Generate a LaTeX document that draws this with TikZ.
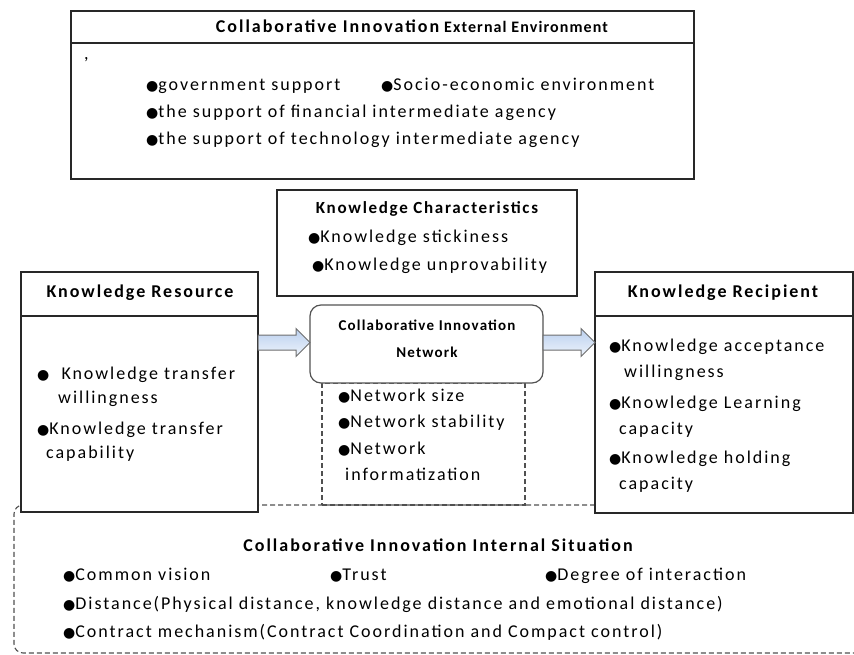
\documentclass[tikz,border=0pt]{standalone}
\usepackage{fontspec}
\setmainfont{Carlito}[LetterSpace=11]
\newfontfamily\symf{DejaVu Sans}
\usetikzlibrary{calc}
\definecolor{boxc}{RGB}{40,40,40}
\definecolor{dashc}{RGB}{80,80,80}
\definecolor{arrtop}{RGB}{186,207,238}
\definecolor{arrbot}{RGB}{238,244,252}
\definecolor{arrline}{RGB}{110,110,110}
\newcommand\bl{{\symf\fontsize{14}{14}\selectfont ●}}
\newcommand\blockarr[2]{%
  \path[arrowshape] ($(#1)+(0,-7.5)$) -- ($(#2)+(-14,-7.5)$) -- ($(#2)+(-14,-14)$) -- (#2)
    -- ($(#2)+(-14,14)$) -- ($(#2)+(-14,7.5)$) -- ($(#1)+(0,7.5)$) -- cycle;}
\begin{document}
\begin{tikzpicture}[x=1pt,y=-1pt,
  box/.style={draw=boxc, line width=1.2pt, fill=white, anchor=north west, inner sep=0pt, outer sep=0pt},
  dbox/.style={draw=dashc, line width=1.1pt, dash pattern=on 5pt off 3pt, anchor=north west, inner sep=0pt, outer sep=0pt},
  txt/.style={anchor=mid west, inner sep=0pt, font=\fontsize{18}{21}\selectfont},
  ttl/.style={anchor=mid, inner sep=0pt, font=\bfseries\fontsize{18}{21}\selectfont},
  sttl/.style={anchor=mid, inner sep=0pt, font=\bfseries\fontsize{17}{20}\selectfont\addfontfeature{LetterSpace=10}},
  arrowshape/.style={draw=arrline, line width=1pt, top color=arrtop, bottom color=arrbot},
  hline/.style={draw=boxc, line width=1.2pt}]
\useasboundingbox (0,0) rectangle (854,655);

% internal situation (dashed rounded, behind everything)
\node[dbox, rounded corners=9pt, minimum width=870pt, minimum height=148pt] (int) at (14,505) {};
% network attribute dashed box
\node[dbox, minimum width=203pt, minimum height=122pt] (netd) at (322,383) {};

% external environment
\node[box, minimum width=623pt, minimum height=168pt] (ext) at (71,11) {};
\draw[hline] ([yshift=-32pt]ext.north west) -- ([yshift=-32pt]ext.north east);
\node[anchor=mid, inner sep=0pt] (extt) at (412,30) {{\bfseries\fontsize{18}{21}\selectfont Collaborative Innovation}\hspace{5pt}{\bfseries\fontsize{16}{19}\selectfont\addfontfeature{LetterSpace=7}External Environment}};
\node[txt] (comma) at (84,57) {,};
\node[txt] (e1) at (146,88) {\bl government support};
\node[txt] (e2) at (381,88) {\bl Socio-economic environment};
\node[txt] (e3) at (146,115) {\bl the support of financial intermediate agency};
\node[txt] (e4) at (146,142) {\bl the support of technology intermediate agency};

% knowledge characteristics
\node[box, minimum width=300pt, minimum height=106pt] (kc) at (277,190) {};
\node[sttl] (kct) at (427,211) {Knowledge Characteristics};
\node[txt] (kc1) at (308,240) {\bl Knowledge stickiness};
\node[txt] (kc2) at (312,268) {\bl Knowledge unprovability};

% knowledge resource
\node[box, minimum width=237pt, minimum height=240pt] (res) at (21,272) {};
\draw[hline] ([yshift=-44pt]res.north west) -- ([yshift=-44pt]res.north east);
\node[ttl] (rest) at (140,295) {Knowledge Resource};
\node[txt] (r1) at (37,377) {\bl\ \ Knowledge transfer};
\node[txt] (r2) at (58,401) {willingness};
\node[txt] (r3) at (37,432) {\bl Knowledge transfer};
\node[txt] (r4) at (46,456) {capability};

% knowledge recipient
\node[box, minimum width=258pt, minimum height=241pt] (rec) at (595,272) {};
\draw[hline] ([yshift=-44pt]rec.north west) -- ([yshift=-44pt]rec.north east);
\node[ttl] (rect) at (723,295) {Knowledge Recipient};
\node[txt] (c1) at (609,349) {\bl Knowledge acceptance};
\node[txt] (c2) at (624,375) {willingness};
\node[txt] (c3) at (609,406) {\bl Knowledge Learning};
\node[txt] (c4) at (619,432) {capacity};
\node[txt] (c5) at (609,461) {\bl Knowledge holding};
\node[txt] (c6) at (619,487) {capacity};

% collaborative innovation network
\node[box, rounded corners=11pt, draw=boxc!80, minimum width=233pt, minimum height=78pt] (net) at (310,305) {};
\node[anchor=mid, inner sep=0pt, font=\bfseries\fontsize{15}{18}\selectfont\addfontfeature{LetterSpace=8}] (nett1) at (427,328) {Collaborative Innovation};
\node[anchor=mid, inner sep=0pt, font=\bfseries\fontsize{15}{18}\selectfont\addfontfeature{LetterSpace=8}] (nett2) at (427,355) {Network};
\node[txt] (n1) at (338,399) {\bl Network size};
\node[txt] (n2) at (338,425) {\bl Network stability};
\node[txt] (n3) at (338,452) {\bl Network};
\node[txt] (n4) at (345,478) {informatization};

% block arrows
\coordinate (lt) at ($(net.west)+(0,-1.5)$);
\coordinate (ls) at (res.east |- lt);
\coordinate (rs) at (net.east |- lt);
\coordinate (rt) at (rec.west |- lt);
\blockarr{ls}{lt}
\blockarr{rs}{rt}

% internal situation text
\node[ttl] (intt) at (438,549) {Collaborative Innovation Internal Situation};
\node[txt] (i1) at (63,578) {\bl Common vision};
\node[txt] (i2) at (330,578) {\bl Trust};
\node[txt] (i3) at (545,578) {\bl Degree of interaction};
\node[txt] (i4) at (63,607) {\bl Distance(Physical distance, knowledge distance and emotional distance)};
\node[txt] (i5) at (63,635) {\bl Contract mechanism(Contract Coordination and Compact control)};
\end{tikzpicture}
\end{document}
